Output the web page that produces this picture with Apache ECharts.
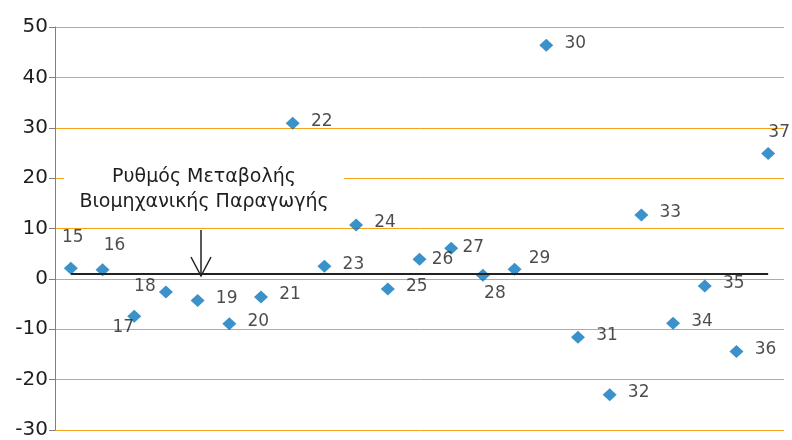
<!DOCTYPE html>
<html>
<head>
    <meta charset="utf-8">
    <script src="https://cdn.jsdelivr.net/npm/echarts@6/dist/echarts.min.js"></script>
    <style>
        html, body { margin: 0; padding: 0; background: #fff; }
    </style>
</head>
<body>
    <div id="main" style="width:792px;height:440px;"></div>
<script type="text/javascript">
    // κατηγορίες (αριθμός παρατήρησης) και τιμές
    var categories = ['15', '16', '17', '18', '19', '20', '21', '22', '23', '24', '25', '26',
                      '27', '28', '29', '30', '31', '32', '33', '34', '35', '36', '37'];
    var values = [2.1, 1.8, -7.4, -2.6, -4.3, -8.9, -3.6, 30.9, 2.5, 10.7, -2.0, 3.9,
                  6.1, 0.7, 1.9, 46.4, -11.6, -23.0, 12.7, -8.8, -1.4, -14.4, 24.9];
    var refLevel = 1.1;
    var yTicks = [-30, -20, -10, 0, 10, 20, 30, 40, 50];
    var noteLines = ['Ρυθμός Μεταβολής', 'Βιομηχανικής Παραγωγής'];

    // μετατόπιση ετικετών (από το κέντρο του σημείου)
    var defaultOffset = [29, -2];
    var labelOffsets = {
        '15': [2, -31],
        '16': [12, -24],
        '17': [-11, 11],
        '18': [-21, -5],
        '26': [23, 0],
        '27': [22, -1],
        '28': [12, 18],
        '29': [25, -11],
        '37': [11, -21]
    };

    var myChart = echarts.init(document.getElementById('main'));

    var FONT = 'DejaVu Sans';
    var TEXT = '#1e1e1e';

    var points = values.map(function (v, i) {
        var c = categories[i];
        return {
            value: v,
            label: { offset: labelOffsets[c] || defaultOffset }
        };
    });

    myChart.setOption({
        animation: false,
        backgroundColor: '#fff',
        // 51px ανά 10 μονάδες ώστε οι γραμμές να πέφτουν σε ακέραια pixel
        grid: { left: 55, right: 8, top: 27, bottom: 5 },
        xAxis: {
            type: 'category',
            data: categories,
            boundaryGap: true,
            axisLine: { show: false },
            axisTick: { show: false },
            axisLabel: { show: false },
            splitLine: { show: false }
        },
        yAxis: {
            type: 'value',
            min: yTicks[0],
            max: yTicks[yTicks.length - 1],
            interval: 10,
            axisLine: { show: true, lineStyle: { color: '#808080', width: 1 } },
            axisTick: { show: true, length: 6, lineStyle: { color: '#808080' } },
            axisLabel: { color: TEXT, fontFamily: FONT, fontSize: 20, margin: 7 },
            splitLine: { show: true, lineStyle: { color: '#f5a21c', width: 1 } }
        },
        series: [{
            type: 'scatter',
            data: points,
            symbol: 'diamond',
            symbolSize: [14, 13],
            itemStyle: { color: '#0a75bc' },
            label: {
                show: true,
                position: 'inside',
                formatter: function (p) { return categories[p.dataIndex]; },
                color: TEXT,
                fontFamily: FONT,
                fontSize: 17
            },
            markLine: {
                silent: true,
                symbol: 'none',
                label: { show: false },
                lineStyle: { color: '#222', width: 2, type: 'solid' },
                data: [[
                    { coord: [categories[0], refLevel] },
                    { coord: [categories[categories.length - 1], refLevel] }
                ]]
            },
            z: 3
        }],
        graphic: [
            {
                type: 'rect',
                shape: { x: 64, y: 164, width: 280, height: 52 },
                style: { fill: '#fff' },
                z: 10
            },
            {
                type: 'text',
                x: 204,
                y: 190,
                style: {
                    text: noteLines.join('\n'),
                    fill: TEXT,
                    font: '19px "DejaVu Sans"',
                    lineHeight: 25,
                    align: 'center',
                    verticalAlign: 'middle'
                },
                z: 11
            },
            {
                type: 'line',
                shape: { x1: 201, y1: 230, x2: 201, y2: 276 },
                style: { stroke: '#222', lineWidth: 1.5 },
                z: 11
            },
            {
                type: 'polyline',
                shape: { points: [[191, 257], [201, 276], [211, 257]] },
                style: { stroke: '#222', lineWidth: 1.5, fill: null },
                z: 11
            }
        ]
    });
</script>
</body>
</html>
